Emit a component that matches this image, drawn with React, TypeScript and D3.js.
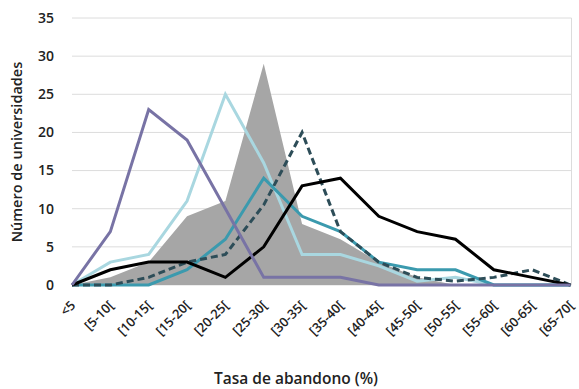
import React from "react";
import * as d3 from "d3";

const categories = ["<5", "[5-10[", "[10-15[", "[15-20[", "[20-25[", "[25-30[", "[30-35[", "[35-40[", "[40-45[", "[45-50[", "[50-55[", "[55-60[", "[60-65[", "[65-70["];
const areaSeries = [0, 1, 3, 9, 11, 29, 8, 6, 3, 1, 0, 0, 0, 0];
const purpleSeries = [0, 7, 23, 19, 10, 1, 1, 1, 0, 0, 0, 0, 0, 0];
const lightBlueSeries = [0, 3, 4, 11, 25, 16, 4, 4, 2.5, 0.5, 1, 0, 0, 0];
const tealSeries = [0, 0, 0, 2, 6, 14, 9, 7, 3, 2, 2, 0, 0, 0];
const dashedSeries = [0, 0, 1, 3, 4, 10.5, 20, 7, 3, 1, 0.5, 1, 2, 0];
const blackSeries = [0, 2, 3, 3, 1, 5, 13, 14, 9, 7, 6, 2, 1, 0];
const yTicks = [0, 5, 10, 15, 20, 25, 30, 35];

const W = 579, H = 389;
const left = 72, right = 570.5, top = 18, bottom = 285;
const FONT = "'Open Sans', 'DejaVu Sans', sans-serif";

export default function App() {
  const x = d3.scalePoint<string>().domain(categories).range([left, right]);
  const y = d3.scaleLinear().domain([0, 35]).range([bottom, top]);
  const line = d3.line<number>().x((_, i) => x(categories[i])!).y((d) => y(d));
  const area = d3.area<number>().x((_, i) => x(categories[i])!).y0(y(0)).y1((d) => y(d));

  const lines = [
    { data: lightBlueSeries, color: "#a9d7e0", dash: undefined },
    { data: tealSeries, color: "#3b9aae", dash: undefined },
    { data: dashedSeries, color: "#2d4d58", dash: "7 4" },
    { data: blackSeries, color: "#000000", dash: undefined },
    { data: purpleSeries, color: "#7873a5", dash: undefined },
  ];

  return (
    <svg width={W} height={H} style={{ position: "absolute", left: 0, top: 0, background: "#fff" }} fontFamily={FONT}>
      {yTicks.map((t) => (
        <g key={t}>
          <line x1={left} x2={right + 1} y1={y(t)} y2={y(t)} stroke="#dcdcdc" strokeWidth={1} />
          <text x={54} y={y(t)} dy="0.35em" textAnchor="end" fontSize={14} fontWeight={600} fill="#222">{t}</text>
        </g>
      ))}
      <line x1={right + 1} x2={right + 1} y1={top} y2={bottom} stroke="#dcdcdc" strokeWidth={1} />
      <path d={area(areaSeries)!} fill="#a6a6a6" />
      {lines.map((l, i) => (
        <path key={i} d={line(l.data)!} fill="none" stroke={l.color} strokeWidth={3} strokeDasharray={l.dash} strokeLinejoin="miter" />
      ))}
      {categories.map((c) => (
        <text key={c} transform={`translate(${x(c)! + 1},${303}) rotate(-45)`} textAnchor="end" dy="0.35em" fontSize={13} fontWeight={600} fill="#222">{c}</text>
      ))}
      <text transform={`translate(22,152) rotate(-90)`} textAnchor="middle" fontSize={14.5} fontWeight={600} fill="#222">Número de universidades</text>
      <text x={296} y={384} textAnchor="middle" fontSize={15.5} fontWeight={600} fill="#222">Tasa de abandono (%)</text>
    </svg>
  );
}
